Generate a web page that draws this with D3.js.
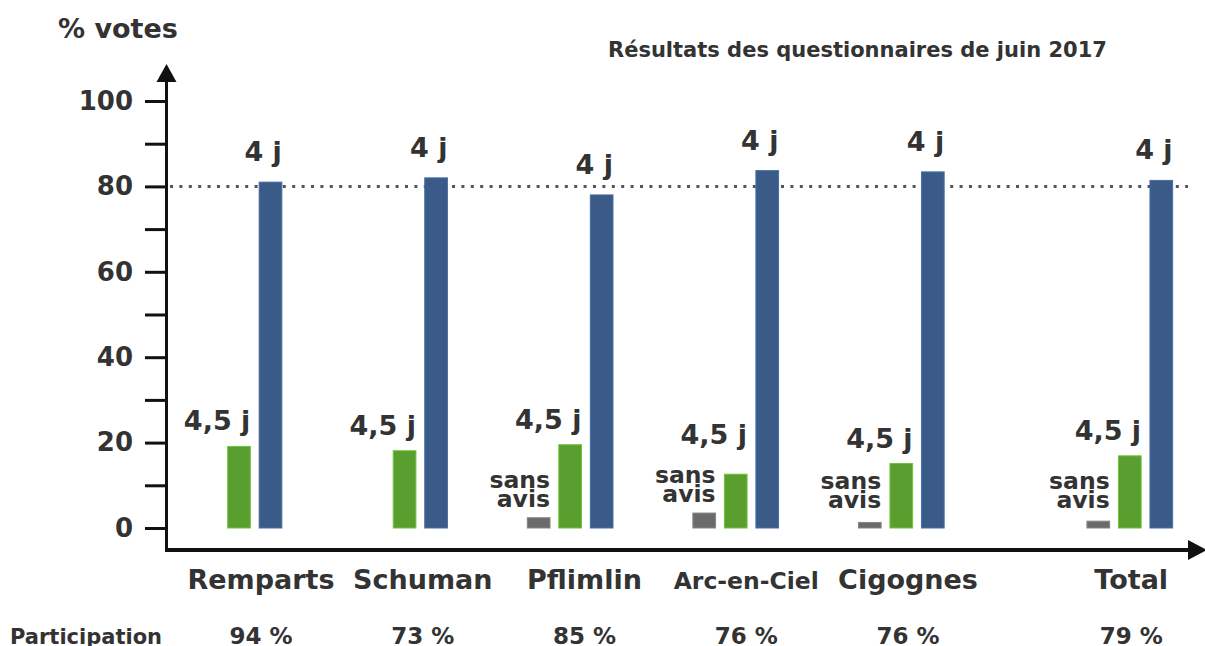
<!DOCTYPE html>
<html>
<head>
<meta charset="utf-8">
<script src="https://cdn.jsdelivr.net/npm/d3@7"></script>
<style>
  body { margin: 0; background: #ffffff; }
  text { font-family: "DejaVu Sans", sans-serif; font-weight: bold; fill: #333333; }
</style>
</head>
<body>
<script>
// data
var categories = ["Remparts", "Schuman", "Pflimlin", "Arc-en-Ciel", "Cigognes", "Total"];
var votes4j = [81, 82, 78, 83.7, 83.4, 81.4];
var votes45j = [19.1, 18.1, 19.5, 12.6, 15.1, 16.9];
var sansAvis = [null, null, 2.4, 3.5, 1.3, 1.6];
var participation = ["94 %", "73 %", "85 %", "76 %", "76 %", "79 %"];
var yTicks = d3.range(0, 101, 10);
var REF_LINE = 80;

var WIDTH = 1205, HEIGHT = 646;
var COLOR_4J = "#3a5a88", COLOR_45J = "#5a9e2f", COLOR_SANS = "#6b6b6b";
var TOTAL_GAP = 0.38;

var svg = d3.select("body").append("svg")
            .attr("width", WIDTH)
            .attr("height", HEIGHT);

var y = d3.scaleLinear().domain([0, 100]).range([528, 101]);

// group position (centre of the green bar) and label position
var slot = d3.scaleLinear().domain([0, 4]).range([239, 901.3]);
var labelSlot = d3.scaleLinear().domain([0, 4]).range([261, 908]);
function slotIndex(i)
{
  return i < 5 ? i : i + TOTAL_GAP;
}

var sub = d3.scaleBand()
            .domain(["sans", "j45", "j4"])
            .range([-42.85, 42.85])
            .paddingInner(0.28)
            .paddingOuter(0);

// dotted reference line
svg.append("line")
   .attr("x1", 170).attr("x2", 1188)
   .attr("y1", y(REF_LINE)).attr("y2", y(REF_LINE))
   .style("stroke", "#555555")
   .style("stroke-width", 3)
   .style("stroke-dasharray", "3,6.4");

// y axis ticks
var axis = d3.axisLeft(y)
             .tickValues(yTicks)
             .tickSize(21)
             .tickPadding(12)
             .tickFormat(function(d) { return d % 20 === 0 ? d : ""; });

var axisG = svg.append("g")
               .attr("transform", "translate(166,0)")
               .call(axis);
axisG.select(".domain").remove();
axisG.selectAll(".tick line").style("stroke", "#111111").style("stroke-width", 3);
axisG.selectAll(".tick text")
     .style("font-size", "26px")
     .style("font-family", "DejaVu Sans")
     .style("font-weight", "bold")
     .style("fill", "#333333");

// axes lines with arrows
svg.append("line")
   .attr("x1", 166.5).attr("x2", 166.5)
   .attr("y1", 551).attr("y2", 78)
   .style("stroke", "#111111").style("stroke-width", 3);
svg.append("path")
   .attr("d", "M156.5,82 L166.5,64 L176.5,82 Z")
   .style("fill", "#111111");

svg.append("line")
   .attr("x1", 165).attr("x2", 1192)
   .attr("y1", 550).attr("y2", 550)
   .style("stroke", "#111111").style("stroke-width", 4);
svg.append("path")
   .attr("d", "M1188,540 L1207,550 L1188,560 Z")
   .style("fill", "#111111");

// bars
var groups = svg.selectAll(".group")
                .data(categories)
                .enter().append("g")
                .attr("class", "group")
                .attr("transform", function(d, i) { return "translate(" + slot(slotIndex(i)) + ",0)"; });

function addBar(sel, key, values, color)
{
  sel.filter(function(d, i) { return values[i] != null; })
     .append("rect")
     .attr("x", sub(key))
     .attr("width", sub.bandwidth())
     .attr("y", function(d) { return y(values[categories.indexOf(d)]); })
     .attr("height", function(d) { return y(0) - y(values[categories.indexOf(d)]); })
     .style("fill", color)
     .style("stroke", d3.color(color).brighter(0.6))
     .style("stroke-width", 1);
}
addBar(groups, "sans", sansAvis, COLOR_SANS);
addBar(groups, "j45", votes45j, COLOR_45J);
addBar(groups, "j4", votes4j, COLOR_4J);

// "4 j" labels
groups.append("text")
      .attr("x", sub("j4") + sub.bandwidth())
      .attr("y", function(d, i) { return y(votes4j[i]) - 21; })
      .attr("text-anchor", "end")
      .style("font-size", "27px")
      .text("4 j");

// "sans avis" labels
function sansBaseline(i)
{
  return Math.min(y(0) - 20, y(sansAvis[i]) - 11);
}
var sansLabels = groups.filter(function(d, i) { return sansAvis[i] != null; })
      .append("text")
      .attr("text-anchor", "end")
      .style("font-size", "23.5px");
sansLabels.append("tspan")
      .attr("x", sub("sans") + sub.bandwidth())
      .attr("y", function(d) { return sansBaseline(categories.indexOf(d)) - 19; })
      .text("sans");
sansLabels.append("tspan")
      .attr("x", sub("sans") + sub.bandwidth())
      .attr("y", function(d) { return sansBaseline(categories.indexOf(d)); })
      .text("avis");

// "4,5 j" labels
groups.append("text")
      .attr("x", sub("j45") + sub.bandwidth())
      .attr("y", function(d, i)
      {
        var base = y(votes45j[i]) - 16;
        if (sansAvis[i] != null) base = Math.min(base, sansBaseline(i) - 58);
        return base;
      })
      .attr("text-anchor", "end")
      .style("font-size", "27px")
      .text("4,5 j");

// category labels and participation
var labels = svg.selectAll(".cat_label")
                .data(categories)
                .enter().append("g")
                .attr("class", "cat_label")
                .attr("transform", function(d, i) { return "translate(" + labelSlot(slotIndex(i)) + ",0)"; });

labels.append("text")
      .attr("y", 589)
      .attr("text-anchor", "middle")
      .style("font-size", function(d) { return d === "Arc-en-Ciel" ? "23.5px" : "27px"; })
      .text(function(d) { return d; });

labels.append("text")
      .attr("y", 644)
      .attr("text-anchor", "middle")
      .style("font-size", "23px")
      .text(function(d, i) { return participation[i]; });

svg.append("text")
   .attr("x", 10).attr("y", 644)
   .style("font-size", "21px")
   .text("Participation");

// titles
svg.append("text")
   .attr("x", 58).attr("y", 38)
   .style("font-size", "27px")
   .text("% votes");

svg.append("text")
   .attr("x", 608).attr("y", 57)
   .style("font-size", "21px")
   .text("Résultats des questionnaires de juin 2017");
</script>
</body>
</html>
